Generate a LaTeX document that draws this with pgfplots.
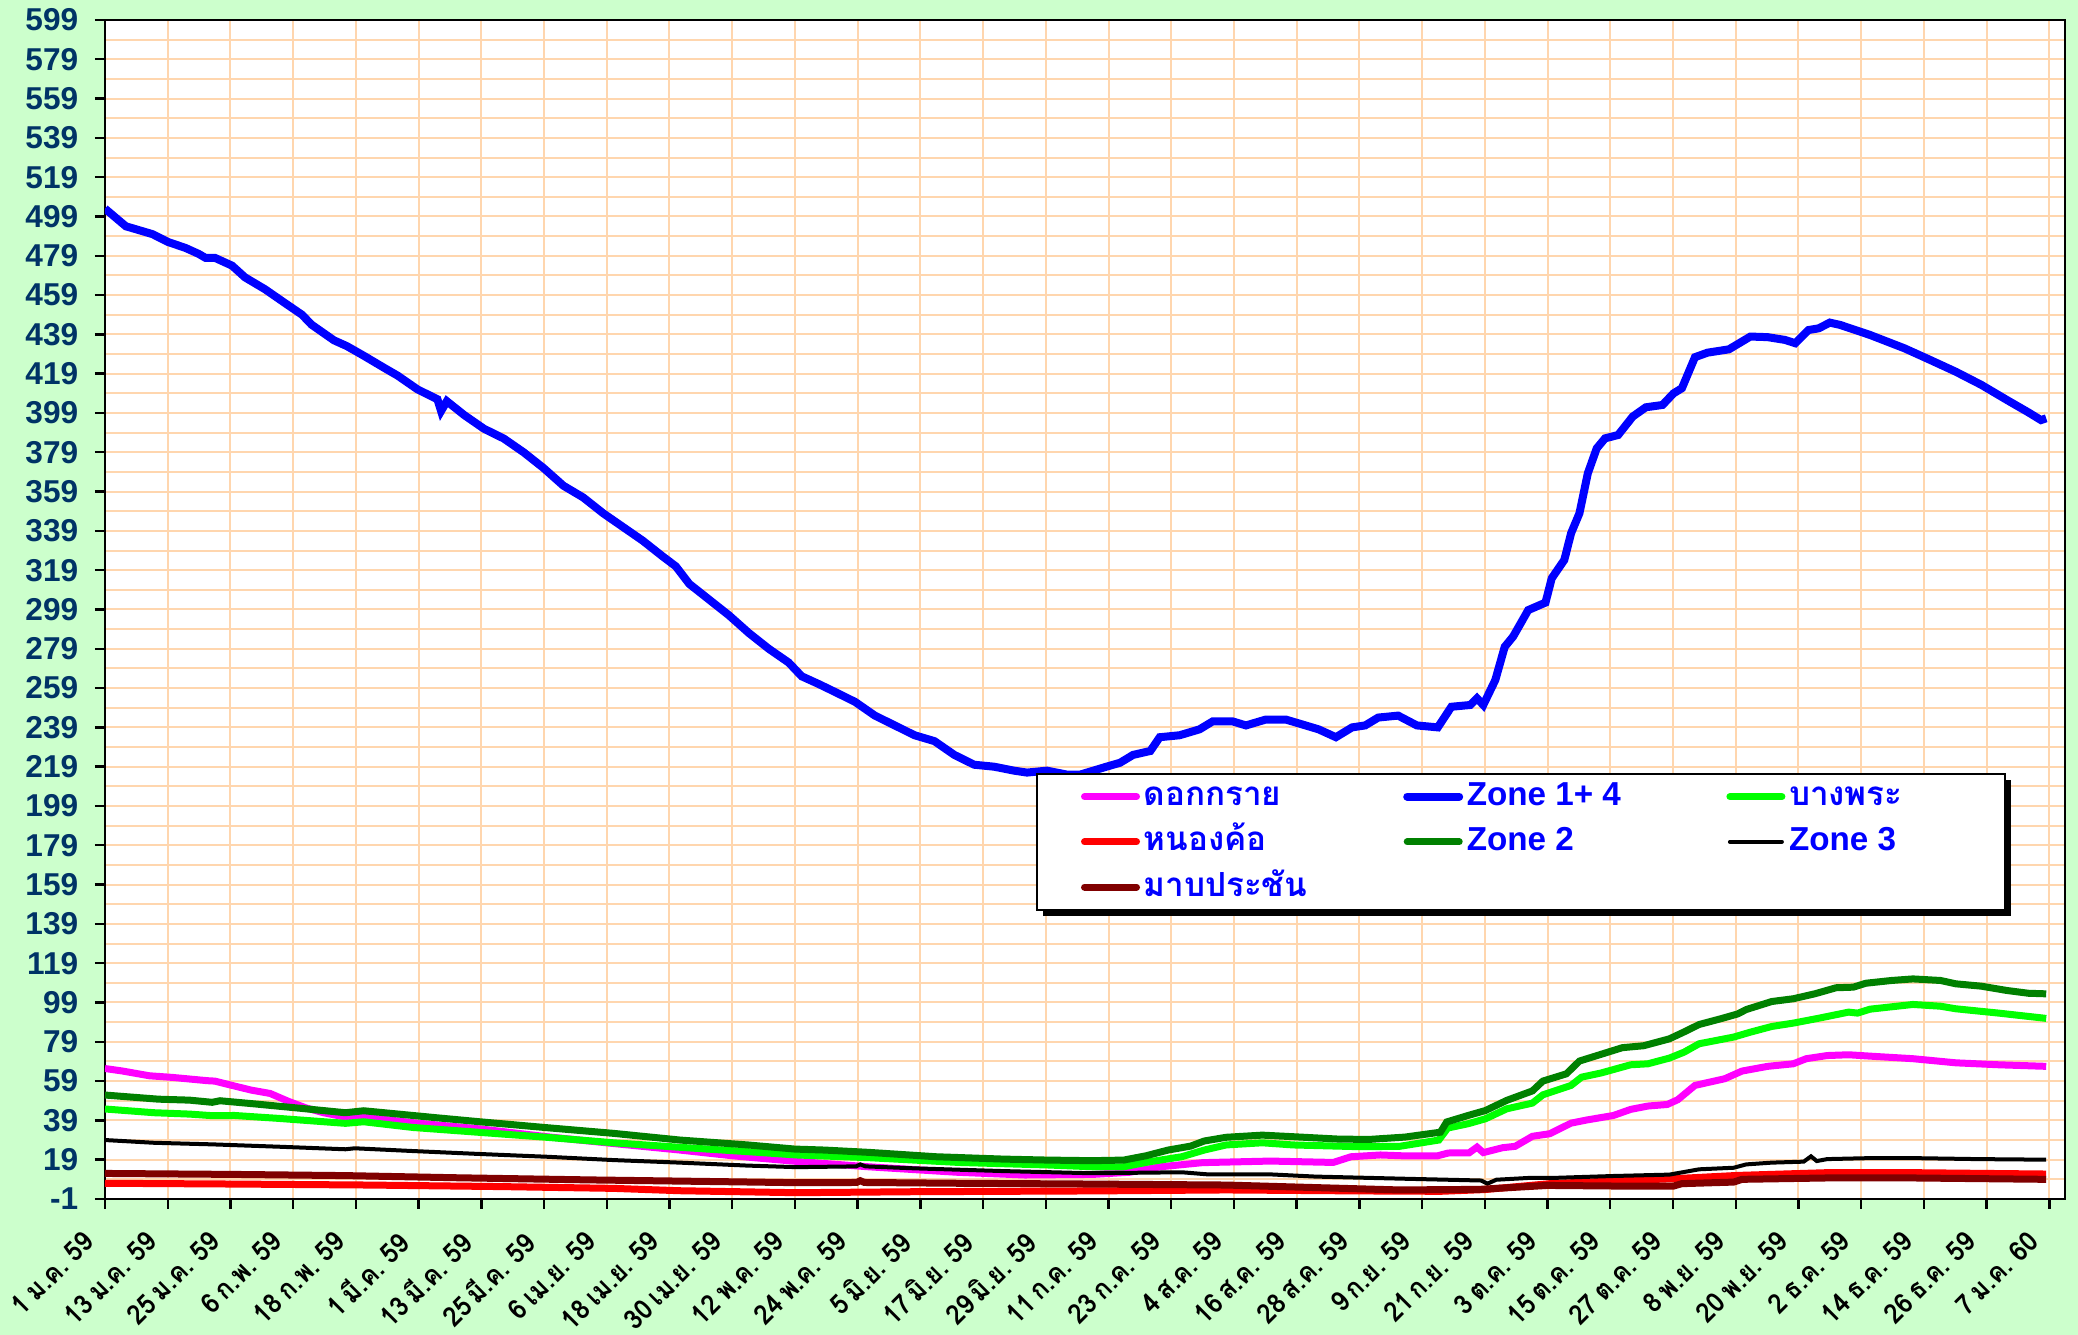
\documentclass[border=0pt]{standalone}
\usepackage{pgfplots}
\pgfplotsset{compat=1.18}
\usepackage{fontspec}
\usetikzlibrary{shadows}
\setmainfont{Liberation Sans}
\newfontfamily\thaifont[Script=Thai]{Loma}
\newfontfamily\thaitick[Script=Thai, WordSpace=0.6, FakeStretch=0.92]{Loma}
\makeatletter
\tikzset{no preactions/.code={\let\tikz@preactions\pgfutil@empty}}
\makeatother
\definecolor{bgc}{HTML}{CCFFCC}
\definecolor{gridc}{HTML}{FFD6AE}
\definecolor{ylab}{HTML}{003366}
\definecolor{cmag}{HTML}{FF00FF}
\definecolor{cblue}{HTML}{0000FF}
\definecolor{clime}{HTML}{00FF00}
\definecolor{cred}{HTML}{FF0000}
\definecolor{cdkg}{HTML}{008000}
\definecolor{cmar}{HTML}{800000}
\begin{document}
\begin{tikzpicture}
\fill[bgc] (-26.25pt,-34pt) rectangle (493.25pt,299.75pt);
\begin{axis}[
  at={(0pt,0pt)}, anchor=south west,
  scale only axis, width=490pt, height=294.75pt,
  xmin=0, xmax=375, ymin=-1, ymax=599,
  axis background/.style={fill=white},
  axis line style={black, line width=0.7pt},
  tick align=outside, tick pos=left,
  major tick length=2.5pt, minor tick length=0pt,
  tick style={black, line width=0.6pt},
  xtick={0,12,...,372},
  xticklabels={1 ม.ค. 59,13 ม.ค. 59,25 ม.ค. 59,6 ก.พ. 59,18 ก.พ. 59,1 มี.ค. 59,13 มี.ค. 59,25 มี.ค. 59,6 เม.ย. 59,18 เม.ย. 59,30 เม.ย. 59,12 พ.ค. 59,24 พ.ค. 59,5 มิ.ย. 59,17 มิ.ย. 59,29 มิ.ย. 59,11 ก.ค. 59,23 ก.ค. 59,4 ส.ค. 59,16 ส.ค. 59,28 ส.ค. 59,9 ก.ย. 59,21 ก.ย. 59,3 ต.ค. 59,15 ต.ค. 59,27 ต.ค. 59,8 พ.ย. 59,20 พ.ย. 59,2 ธ.ค. 59,14 ธ.ค. 59,26 ธ.ค. 59,7 ม.ค. 60},
  xticklabel style={rotate=45, anchor=north east, inner sep=0pt, xshift=-7.5pt, yshift=0.7pt, font=\thaitick\bfseries\fontsize{6.9}{8}\selectfont, text=black},
  ytick={-1,19,...,599},
  yticklabels={-1,19,39,59,79,99,119,139,159,179,199,219,239,259,279,299,319,339,359,379,399,419,439,459,479,499,519,539,559,579,599},
  yticklabel style={font=\bfseries\fontsize{7.9}{9}\selectfont, text=ylab, inner sep=0pt, xshift=-4pt},
  minor y tick num=1,
  xmajorgrids, ymajorgrids, yminorgrids,
  major grid style={gridc, line width=0.5pt},
  minor grid style={gridc, line width=0.5pt},
  legend columns=3,
  legend cell align=left,
  legend image code/.code={\draw[no preactions, #1, line cap=round] (0pt,0pt) -- (13pt,0pt);},
  legend style={at={(0.475,0.3613)}, anchor=north west, draw=black, line width=0.5pt, fill=white,
    drop shadow={shadow xshift=1.6pt, shadow yshift=-1.6pt, fill=black, opacity=1},
    font=\bfseries\fontsize{8.3}{9}\selectfont, text=cblue,
    inner xsep=11pt, inner ysep=0pt,
    nodes={inner sep=0.9pt, text height=7pt, text depth=2.5pt}},
]
\addplot[cmag, line width=1.75pt] coordinates {
(0,65.4)(3.4,64.1)(8.5,61.7)(12.8,60.9)(19.6,59.2)(21,59)(24,57)(28,54.4)(31.6,52.7)(35,48.8)(38.4,45.4)(41.8,42.9)(46,40.7)(48,40.4)(50,40.5)(59,37.8)(72,34.6)(84.5,30.7)(97,27.3)(110,23.9)(120,21)(132,18.2)(146,15.4)(163,12.6)(176,11.2)(189,11.5)(196,12.6)(202,15.4)(210,17.5)(223,18.3)(235,17.6)(238.4,20.5)(244,21.4)(248,21)(255,21)(257,22.4)(261,22.5)(262.5,25.4)(263.7,22.6)(267.4,25.1)(269.8,25.8)(273.1,30.9)(276.4,32.2)(280.5,37.6)(283.7,39.3)(288.6,41.5)(291.9,44.6)(295.2,46.3)(298.9,47.1)(300.9,49.5)(304.2,56.8)(309.9,60.2)(313.2,64.1)(318.1,66.5)(323,67.8)(325.5,70.4)(329.5,72)(333.6,72.4)(337.7,71.7)(345.9,70.4)(354.1,68.3)(362.3,67.3)(371.4,66.5)};
\addlegendentry{\makebox[64pt][l]{\thaifont ดอกกราย}}
\addplot[cblue, line width=2pt] coordinates {
(0,503)(4,494)(5.3,493)(9.1,490)(12.1,486)(15.4,483)(17.9,480)(19.2,478)(21,478)(24.3,474)(26.8,468)(30.6,462)(34.4,455)(37.7,449)(39.5,444)(43.8,436)(46.3,433)(49.6,428)(53.4,422)(56,418)(59.8,411)(63.6,406)(64.3,400)(65.4,405)(68.7,398)(72.5,391)(76.3,386)(80.1,379)(83.9,371)(87.7,362)(91.5,356)(95.3,348)(99.1,341)(102.9,334)(106.7,326)(109.2,321)(111.8,312)(115.6,304)(119.4,296)(123.2,287)(127,279)(130.8,272)(133.3,265)(136.6,261)(139.7,257)(143.5,252)(147.3,245)(151.1,240)(154.9,235)(158.7,232)(162.5,225)(166.3,220)(170.1,219)(173.9,217)(176.4,216)(180.2,217)(184,215)(186.6,215)(189.1,217)(191.6,219)(194.2,221)(196.7,225)(200,227)(201.8,234)(205.6,235)(209.4,238)(211.9,242)(215.8,242)(218.3,240)(222.1,243)(225.9,243)(229.7,240)(232.2,238)(235.5,234)(238.6,239)(241.1,240)(243.6,244)(247.4,245)(251,240)(255,239)(257.6,249.5)(261.2,250.4)(262.5,253.8)(263.7,250.4)(266,263.1)(267.8,280)(269.4,285.2)(272.3,298.7)(275.6,302.5)(276.8,314.9)(279.2,324.2)(280.5,337.8)(282.1,348)(283.7,368.3)(285.4,381)(287,386.1)(289.5,387.8)(292.3,397.2)(294.8,401.9)(298,403.1)(300.1,409)(301.7,411.6)(304.2,427.4)(306.6,429.7)(310.7,431.4)(314.8,437.9)(318.1,437.6)(321.4,436.2)(323.4,434.5)(325.9,441.2)(327.9,442.1)(330,445)(332,443.8)(337.7,438.7)(344.3,431.9)(349.2,426)(354.1,420)(359,413.3)(363.9,405.6)(368,399.3)(370.4,395.4)(371.4,396.3)};
\addlegendentry{\makebox[64pt][l]{Zone 1+ 4}}
\addplot[clime, line width=1.75pt] coordinates {
(0,44.8)(9.4,42.9)(16.2,42.2)(20.5,41.4)(24.8,41.5)(33.3,40)(46,37.5)(49.5,38.3)(58.9,35.4)(71.7,32.9)(84.5,30.4)(97.3,27.6)(110,25.3)(122.9,23.1)(132.3,21.4)(146.3,20)(163.3,17.6)(180.4,16.3)(188.9,15.4)(194.9,15.4)(200,18)(206,20.5)(210.3,23.9)(214.5,26.5)(221.4,27.6)(227.3,26.5)(240.1,25.6)(247.7,25.8)(255.2,29)(256.9,35.1)(260.8,37.3)(264.1,39.8)(268.2,44.9)(273.1,47.8)(275.1,52)(280.5,56.8)(282.5,61)(286.2,63.1)(291.9,67.3)(295.2,67.8)(299.3,70.7)(302.1,73.7)(305,78)(311.6,81.4)(314.8,83.9)(318.9,86.8)(323,88.5)(327.9,91)(333.6,94.1)(335.3,93.6)(337.7,95.6)(345.9,98)(351.2,97.1)(354.1,95.8)(362.3,93.6)(371.4,90.9)};
\addlegendentry{\makebox[42pt][l]{\thaifont บางพระ}}
\addplot[cred, line width=1.75pt] coordinates {
(0,7)(24.8,6.6)(50.4,6.1)(76,5.3)(97.3,4.4)(110,3.2)(132.3,2.2)(154.8,2.7)(188.9,3.1)(214.5,3.6)(240.1,3.1)(255.5,2.9)(264,3.8)(276.4,6.8)(288.6,8.2)(300,9.3)(312.4,11)(329.5,12.4)(345.9,12.4)(371.4,11.7)};
\addlegendentry{\makebox[64pt][l]{\thaifont หนองค้อ}}
\addplot[cdkg, line width=1.75pt] coordinates {
(0,51.9)(10.2,49.8)(16.2,49.3)(20.5,48.2)(22,49)(29,47.3)(37.6,45.1)(46,42.9)(49.5,43.9)(54.6,42.6)(63.2,40.4)(71.7,38.3)(84.5,35.3)(97.3,32.4)(110,29)(123,26.5)(132,24.4)(137.7,23.9)(146.3,22.7)(159,20.5)(171.9,19.3)(180.4,18.8)(188.9,18.5)(194.9,18.8)(199.2,21)(203.4,23.9)(207.7,25.9)(210.3,28.5)(214.5,30.4)(221.4,31.5)(227.3,30.7)(235.9,29.5)(241.8,29.3)(248.7,30.5)(255.5,33)(256.7,38.2)(260.8,41.5)(264.1,44)(268.2,49.2)(273.1,54)(275.1,59)(279.6,62.7)(282.1,69.2)(286.2,72.6)(290.3,76)(294.4,77)(299.3,80.5)(302.1,84)(305,87.8)(309.1,90.7)(312.4,93.2)(314,95.4)(318.9,99.5)(323,100.9)(327.1,103.4)(331.2,106.5)(334.5,106.8)(336.9,108.8)(341.8,110.2)(345.9,111)(351.2,110.2)(354.1,108.5)(359,107.3)(363.9,105.1)(368,103.7)(371.4,103.4)};
\addlegendentry{\makebox[64pt][l]{Zone 2}}
\addplot[black, line width=1pt] coordinates {
(0,29)(9.4,27.6)(20.5,26.8)(33.3,25.6)(46,24.3)(47.8,24.8)(58.9,23.4)(71.7,21.9)(84.5,20.5)(97.3,18.8)(110,17.5)(122.9,16)(132.3,15.2)(143.7,15.6)(144.5,16.6)(145.5,15.6)(154.8,14.6)(171.9,13.2)(188.9,12.1)(206,12.6)(211.1,11.5)(223.1,11.5)(231.6,10.4)(248.7,9.3)(263.3,8.4)(264.5,6.8)(266.2,8.8)(272.3,9.7)(278,9.8)(288.6,10.7)(299.3,11.4)(305,14.1)(311.6,14.9)(314,16.6)(318.9,17.5)(325,18)(326.4,20.7)(327.5,18.3)(329.5,19.3)(337.7,19.8)(345.9,19.8)(358.2,19.3)(371.4,19)};
\addlegendentry{\makebox[42pt][l]{Zone 3}}
\addplot[cmar, line width=1.75pt] coordinates {
(0,12)(24.8,11.5)(46,10.9)(67.4,9.8)(93,8.7)(118.6,7.8)(132.3,7.3)(143.8,7.4)(144.5,8.3)(145.3,7.4)(163.3,7)(188.9,6.6)(214.5,6.1)(231.6,4.8)(247.7,3.6)(263,3.9)(276,5.9)(288.6,5.6)(300,5.5)(301.7,6.8)(311.6,7.6)(313.2,9)(329.5,9.7)(345.9,9.7)(371.4,9)};
\addlegendentry{\makebox[64pt][l]{\thaifont มาบประชัน}}
\draw[black!80, line width=0.4pt] ([yshift=-1.3pt]rel axis cs:0,0) -- ([yshift=-1.3pt]rel axis cs:1,0);
\end{axis}
\pgfresetboundingbox
\path (-26.25pt,-34pt) rectangle (493.25pt,299.75pt);
\end{tikzpicture}
\end{document}
